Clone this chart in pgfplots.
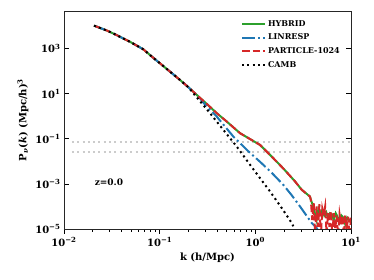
\documentclass[border=0pt]{standalone}
\usepackage{fontspec}
\setmainfont{DejaVu Serif}
\usepackage{pgfplots}
\pgfplotsset{compat=1.18}
\definecolor{mgreen}{RGB}{44,160,44}
\definecolor{mblue}{RGB}{31,119,180}
\definecolor{mred}{RGB}{214,39,40}
\begin{document}
\begin{tikzpicture}
\useasboundingbox (0,0) rectangle (374pt,280pt);
\begin{axis}[
  at={(64pt,51pt)}, anchor=south west,
  width=287pt, height=218pt, scale only axis,
  xmode=log, ymode=log,
  xmin=0.01, xmax=10, ymin=1e-5, ymax=46800,
  xtick={0.01,0.1,1,10},
  xticklabels={\textbf{10}\textsuperscript{\textbf{−2}},\textbf{10}\textsuperscript{\textbf{−1}},\textbf{10}\textsuperscript{\textbf{0}},\textbf{10}\textsuperscript{\textbf{1}}},
  ytick={1e-5,1e-3,1e-1,1e1,1e3},
  yticklabels={\textbf{10}\textsuperscript{\textbf{−5}},\textbf{10}\textsuperscript{\textbf{−3}},\textbf{10}\textsuperscript{\textbf{−1}},\textbf{10}\textsuperscript{\textbf{1}},\textbf{10}\textsuperscript{\textbf{3}}},
  yminorticks=false,
  xtick pos=bottom, xtick align=outside,
  ytick pos=both, ytick align=inside,
  major tick length=5pt, minor tick length=3pt,
  every tick/.style={black, line width=0.7pt},
  axis line style={line width=0.8pt, black!85},
  tick label style={font=\fontsize{10}{12}\selectfont\bfseries},
  xlabel={\textbf{k (h/Mpc)}},
  ylabel={\textbf{P}\textsubscript{\textit{ν}}\textbf{(}\textit{k}\textbf{) (Mpc/h)}\textsuperscript{3}},
  label style={font=\fontsize{10}{12}\selectfont\bfseries},
  legend style={draw=none, fill=none, at={(0.979,0.977)}, anchor=north east,
    font=\fontsize{8}{10}\selectfont\bfseries, row sep=2.4pt},
  legend cell align=left,
  legend image code/.code={\draw[#1] (0pt,0pt) -- (23pt,0pt);},
  clip=true,
]
% reference dotted lines
\addplot[forget plot, gray!40, line width=2pt, dash pattern=on 2pt off 3.3pt] coordinates {(0.0121,0.074) (10,0.074)};
\addplot[forget plot, gray!40, line width=2pt, dash pattern=on 2pt off 3.3pt] coordinates {(0.0121,0.026) (10,0.026)};
% HYBRID
\addplot[mgreen, line width=2pt] coordinates {
(0.0206,10471) (0.0282,6310) (0.0356,3981) (0.0501,1905) (0.0675,933) (0.0832,437)
(0.1007,224) (0.1259,102) (0.1633,40.7) (0.1995,19.5) (0.2512,7.94) (0.3162,3.31)
(0.3945,1.38) (0.5012,0.589) (0.6918,0.178) (1.119,0.0537) (1.542,0.0138)
(1.995,0.00447) (2.600,0.00129) (3.055,5.5e-4) (3.724,2.75e-4)
(3.802,2.0e-4) (4.0,1.1e-4) (4.17,5.6e-5) (4.37,2.5e-5) (4.57,8e-5) (4.79,5e-5)
(5.01,7e-5) (5.25,4e-5) (5.50,5.6e-5) (5.75,3.2e-5) (6.03,5e-5) (6.31,4.5e-5)
(6.61,2.5e-5) (6.92,5e-5) (7.24,3.5e-5) (7.59,2e-5) (7.94,4e-5) (8.32,3.2e-5)
(8.71,1.6e-5) (9.12,3.2e-5) (9.55,2.5e-5) (10,2e-5)
};
\addlegendentry{HYBRID}
% LINRESP
\addplot[mblue, line width=2pt, dash pattern=on 12.8pt off 3.2pt on 2pt off 3.2pt] coordinates {
(0.0206,10471) (0.0282,6310) (0.0356,3981) (0.0501,1905) (0.0675,933) (0.0832,437)
(0.1007,224) (0.1259,102) (0.1633,40.7) (0.1995,19.5) (0.2512,7.94)
(0.3105,2.69) (0.3945,0.977) (0.5888,0.126) (0.8433,0.0282) (1.119,0.0096)
(1.479,0.00316) (1.959,9.12e-4) (2.399,3.16e-4) (2.931,1.0e-4) (3.882,1.86e-5)
(4.375,1.10e-5) (4.571,7.9e-6)
};
\addlegendentry{LINRESP}
% PARTICLE-1024
\addplot[mred, line width=2pt, dash pattern=on 7.4pt off 3.2pt] coordinates {
(0.0206,10471) (0.0282,6310) (0.0356,3981) (0.0501,1905) (0.0675,933) (0.0832,437)
(0.1007,224) (0.1259,102) (0.1633,40.7) (0.1995,19.5) (0.2512,7.94) (0.3162,3.31)
(0.3945,1.38) (0.5012,0.589) (0.6918,0.178) (1.119,0.0537) (1.542,0.0138)
(1.995,0.00447) (2.600,0.00129) (3.055,5.5e-4) (3.724,2.75e-4)
(3.802,2.0e-4) (3.936,2.5e-5) (4.074,1.41e-4) (4.217,6.3e-6) (4.365,1e-4)
(4.519,1.26e-5) (4.677,1.26e-4) (4.842,5e-6) (5.012,7.9e-5) (5.188,4e-5)
(5.370,1e-4) (5.559,6.3e-6) (5.754,5e-5) (5.957,1.26e-5) (6.166,6.3e-5)
(6.383,5e-6) (6.607,5e-5) (6.839,1e-5) (7.079,4e-5) (7.328,5e-6) (7.586,4.5e-5)
(7.852,1.6e-5) (8.128,4e-5) (8.414,5e-6) (8.710,4e-5) (9.016,1e-5) (9.333,3.5e-5)
(9.661,5e-6) (10,3.2e-5)
};
\addlegendentry{PARTICLE-1024}
% CAMB
\addplot[black, line width=2pt, dash pattern=on 2pt off 3.3pt] coordinates {
(0.0206,10471) (0.0282,6310) (0.0356,3981) (0.0501,1905) (0.0675,933) (0.0832,437)
(0.1007,224) (0.1259,102) (0.1633,40.7) (0.1778,29.5) (0.1995,19.5) (0.2249,10.5)
(0.3357,1.38) (0.4624,0.251) (0.6383,0.0457) (0.9920,0.00355) (1.422,4.68e-4)
(1.888,8.51e-5) (2.399,1.86e-5) (2.495,1.32e-5)
};
\addlegendentry{CAMB}
\node[anchor=west, font=\fontsize{9}{11}\selectfont\bfseries] at (axis description cs:0.095,0.216) {z=0.0};
\end{axis}
\end{tikzpicture}
\end{document}
